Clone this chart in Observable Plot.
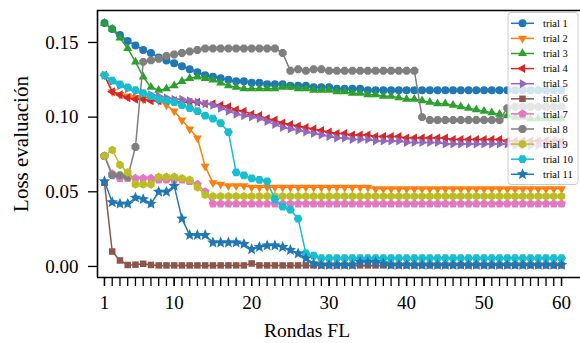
<!DOCTYPE html>
<html>
<head>
<meta charset="utf-8">
<script src="https://cdn.jsdelivr.net/npm/d3@7"></script>
<script src="https://cdn.jsdelivr.net/npm/@observablehq/plot@0.6"></script>
<style>
  html, body { margin: 0; padding: 0; background: white; }
  #wrap { position: relative; width: 580px; height: 343px; overflow: hidden; }
  #wrap svg { position: absolute; left: 0; top: 0; }
</style>
</head>
<body>
<div id="wrap"></div>
<script>
// ---- data ----
const rounds = d3.range(1, 61);
const seriesNames = ["trial 1","trial 2","trial 3","trial 4","trial 5","trial 6","trial 7","trial 8","trial 9","trial 10","trial 11"];
const seriesColors = ["#1f77b4","#ff7f0e","#2ca02c","#d62728","#9467bd","#8c564b","#e377c2","#7f7f7f","#bcbd22","#17becf","#1f77b4"];
const xTickLabels = [1, 10, 20, 30, 40, 50, 60];
const yTickLabels = [0, 0.05, 0.10, 0.15];

const trial1 = [.163,.159,.155,.151,.148,.145,.143,.140,.138,.136,
  .134,.132,.130,.128,.127,.126,.125,.124,.124,.123,
  .123,.122,.122,.122,.121,.121,.121,.120,.120,.120,
  .119,.119,.119,.119,.118,.118,.118,.118,.118,.118,
  .118,.118,.118,.118,.118,.118,.118,.118,.118,.118,
  .118,.118,.118,.118,.118,.118,.118,.118,.118,.118];
const trial2 = [.128,.117,.115,.114,.113,.112,.112,.111,.108,.104,
  .098,.092,.086,.067,.056,.055,.054,.054,.054,.053,
  .053,.053,.053,.053,.053,.053,.053,.053,.053,.053,
  .053,.053,.053,.053,.053,.052,.052,.052,.052,.052,
  .052,.052,.052,.052,.052,.052,.052,.052,.052,.052,
  .052,.052,.052,.052,.052,.052,.052,.052,.052,.052];
const trial3 = [.163,.159,.153,.146,.137,.127,.120,.118,.119,.121,
  .124,.126,.127,.126,.125,.123,.121,.120,.119,.119,
  .119,.119,.119,.120,.120,.119,.119,.118,.118,.118,
  .117,.117,.116,.116,.115,.115,.114,.114,.113,.112,
  .112,.111,.110,.109,.109,.108,.107,.106,.105,.104,
  .103,.102,.101,.100,.100,.099,.099,.099,.099,.099];
const trial4 = [.128,.117,.115,.113,.112,.112,.111,.111,.111,.111,
  .110,.110,.110,.109,.109,.108,.107,.105,.104,.102,
  .101,.099,.098,.096,.095,.094,.093,.092,.091,.090,
  .089,.089,.088,.088,.088,.087,.087,.087,.087,.086,
  .086,.086,.086,.086,.086,.085,.085,.085,.085,.085,
  .085,.085,.084,.084,.084,.084,.084,.084,.084,.084];
const trial5 = [.128,.124,.121,.119,.117,.116,.115,.114,.113,.112,
  .112,.111,.110,.109,.108,.106,.104,.102,.101,.100,
  .099,.097,.095,.093,.092,.091,.090,.089,.088,.087,
  .086,.086,.085,.085,.085,.084,.084,.084,.084,.083,
  .083,.083,.083,.083,.082,.082,.082,.082,.082,.082,
  .082,.082,.082,.081,.081,.081,.081,.081,.081,.081];
const trial6 = [.056,.010,.004,.001,.0012,.0018,.001,.0007,.0007,.0007,
  .0007,.0007,.0007,.0007,.0007,.0007,.0007,.0007,.0007,.002,
  .0007,.0007,.0007,.0007,.0007,.0007,.0007,.0007,.0007,.0007,
  .0007,.0007,.0007,.0007,.0007,.0007,.0007,.0007,.0007,.0007,
  .0007,.0007,.0007,.0007,.0007,.0007,.0007,.0007,.0007,.0007,
  .0007,.0007,.0007,.0007,.0007,.0007,.0007,.0007,.0007,.0007];
const trial7 = [.074,.062,.059,.059,.059,.059,.059,.058,.058,.058,
  .058,.057,.055,.050,.042,.042,.042,.042,.042,.042,
  .042,.042,.042,.042,.042,.042,.042,.042,.042,.042,
  .042,.042,.042,.042,.042,.042,.042,.042,.042,.042,
  .042,.042,.042,.042,.042,.042,.042,.042,.042,.042,
  .042,.042,.042,.042,.042,.042,.042,.042,.042,.042];
const trial8 = [.074,.061,.061,.060,.080,.137,.138,.139,.141,.142,
  .143,.144,.145,.146,.146,.146,.146,.146,.146,.146,
  .146,.146,.146,.143,.131,.132,.131,.132,.132,.131,
  .131,.131,.131,.131,.131,.131,.131,.131,.131,.131,
  .131,.100,.098,.098,.098,.098,.098,.098,.098,.098,
  .098,.098,.106,.107,.107,.107,.107,.107,.107,.107];
const trial9 = [.074,.078,.068,.063,.055,.055,.055,.060,.060,.060,
  .059,.058,.053,.048,.047,.047,.047,.047,.047,.047,
  .047,.047,.047,.047,.047,.047,.047,.047,.047,.047,
  .047,.047,.047,.047,.047,.047,.047,.047,.047,.047,
  .047,.047,.047,.047,.047,.047,.047,.047,.047,.047,
  .047,.047,.047,.047,.047,.047,.047,.047,.047,.047];
const trial10 = [.128,.1245,.122,.120,.118,.116,.114,.112,.111,.110,
  .108,.106,.104,.101,.099,.096,.090,.063,.061,.059,
  .058,.057,.045,.040,.038,.032,.0087,.0073,.0055,.0055,
  .0055,.0055,.0055,.0055,.0055,.0055,.0055,.0055,.0055,.0055,
  .0055,.0055,.0055,.0055,.0055,.0055,.0055,.0055,.0055,.0055,
  .0055,.0055,.0055,.0055,.0055,.0055,.0055,.0055,.0055,.0055];
const trial11 = [.057,.043,.042,.042,.046,.045,.042,.050,.050,.054,
  .032,.021,.021,.021,.016,.016,.016,.016,.015,.0115,
  .013,.014,.014,.013,.011,.0087,.0054,.002,.001,.001,
  .001,.001,.001,.003,.003,.003,.002,.001,.001,.001,
  .001,.001,.001,.001,.001,.001,.001,.001,.001,.001,
  .001,.001,.001,.001,.001,.001,.001,.001,.001,.001];
const allSeries = [trial1,trial2,trial3,trial4,trial5,trial6,trial7,trial8,trial9,trial10,trial11];

// ---- marker shapes (matplotlib-like) ----
function polygon(n, a0, scale) {
  return { draw(ctx, size) {
    const r = Math.sqrt(size / Math.PI) * scale;
    for (let i = 0; i < n; i++) {
      const a = a0 + 2 * Math.PI * i / n;
      const x = r * Math.cos(a), y = r * Math.sin(a);
      if (i) ctx.lineTo(x, y); else ctx.moveTo(x, y);
    }
    ctx.closePath();
  }};
}
function star(n, inner, scale) {
  return { draw(ctx, size) {
    const r = Math.sqrt(size / Math.PI) * scale;
    for (let i = 0; i < 2 * n; i++) {
      const a = -Math.PI / 2 + Math.PI * i / n;
      const rr = i % 2 ? r * inner : r;
      const x = rr * Math.cos(a), y = rr * Math.sin(a);
      if (i) ctx.lineTo(x, y); else ctx.moveTo(x, y);
    }
    ctx.closePath();
  }};
}
const symbols = [
  d3.symbolCircle,
  polygon(3, Math.PI / 2, 1.3),
  polygon(3, -Math.PI / 2, 1.3),
  polygon(3, Math.PI, 1.3),
  polygon(3, 0, 1.3),
  polygon(4, Math.PI / 4, 1.15),
  polygon(5, -Math.PI / 2, 1.15),
  polygon(8, Math.PI / 8, 1.08),
  polygon(6, -Math.PI / 2, 1.08),
  polygon(6, 0, 1.12),
  star(5, 0.45, 1.5)
];

const xDomain = [0.1, 62.45];
const yDomain = [-0.0074, 0.1714];
const R = 4;

const seriesMarks = [];
allSeries.forEach((vals, k) => {
  const data = vals.map((v, i) => ({r: rounds[i], v}));
  seriesMarks.push(Plot.line(data, {x: "r", y: "v", stroke: seriesColors[k], strokeWidth: 1.5}));
  seriesMarks.push(Plot.dot(data, {x: "r", y: "v", fill: seriesColors[k], stroke: "none", r: R, symbol: symbols[k]}));
});

const chart = Plot.plot({
  width: 580,
  height: 343,
  marginLeft: 97,
  marginRight: 0,
  marginTop: 10,
  marginBottom: 66,
  style: {fontFamily: "'Liberation Serif', 'Times New Roman', serif", color: "black", background: "white"},
  x: {domain: xDomain},
  y: {domain: yDomain},
  marks: [
    ...seriesMarks,
    Plot.ruleY([yDomain[0]], {stroke: "black", strokeWidth: 1.6}),
    Plot.ruleY([yDomain[1]], {stroke: "black", strokeWidth: 1.6}),
    Plot.ruleX([xDomain[0]], {stroke: "black", strokeWidth: 1.6}),
    Plot.axisX(rounds, {tickSize: 9, strokeWidth: 1.3, fill: "none", label: null}),
    Plot.axisX(xTickLabels, {tickSize: 9, strokeWidth: 1.3, tickPadding: 9, fontSize: 19, label: null, tickFormat: d => String(d)}),
    Plot.axisY(yTickLabels, {tickSize: 9, strokeWidth: 1.3, tickPadding: 10, fontSize: 19, label: null, tickFormat: d3.format(".2f")}),
    Plot.text(["Rondas FL"], {text: d => d, frameAnchor: "bottom", textAnchor: "middle", dx: -32, dy: 53, fontSize: 19.5, lineAnchor: "middle"}),
    Plot.text(["Loss evaluación"], {text: d => d, frameAnchor: "left", textAnchor: "middle", dx: -76, dy: 0, rotate: -90, fontSize: 21, lineAnchor: "middle"})
  ]
});
document.getElementById("wrap").appendChild(chart);

// ---- legend (matplotlib-style box) ----
const leg = d3.select("#wrap").append("svg")
  .attr("width", 580).attr("height", 343)
  .style("font-family", "'Liberation Serif', 'Times New Roman', serif");
leg.append("rect")
  .attr("x", 508).attr("y", 12.5).attr("width", 70).attr("height", 172)
  .attr("rx", 3).attr("fill", "white").attr("fill-opacity", 0.8)
  .attr("stroke", "#cccccc").attr("stroke-width", 1);
seriesNames.forEach((name, k) => {
  const y = 23.3 + k * 15.1;
  const g = leg.append("g");
  g.append("line").attr("x1", 511).attr("x2", 534).attr("y1", y).attr("y2", y)
    .attr("stroke", seriesColors[k]).attr("stroke-width", 1.5);
  g.append("path")
    .attr("transform", `translate(522.5,${y})`)
    .attr("d", d3.symbol(symbols[k], Math.PI * R * R)())
    .attr("fill", seriesColors[k]);
  g.append("text").attr("x", 543).attr("y", y).attr("dy", "0.35em")
    .attr("font-size", 10.5).attr("fill", "black").text(name);
});
</script>
</body>
</html>
